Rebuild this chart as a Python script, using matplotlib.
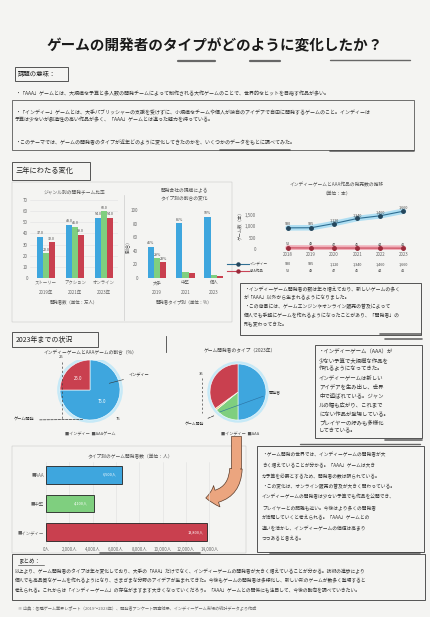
import matplotlib
matplotlib.use('Agg')
import matplotlib.pyplot as plt
from matplotlib.patches import Rectangle, FancyArrowPatch, Circle
import numpy as np

plt.rcParams['font.family'] = ['Noto Sans CJK JP', 'DejaVu Sans']

W, H = 430, 617

# --- data ---
genre_cats = ['ストーリー\n2019年', 'アクション\n2021年', 'オンライン\n2023年']
genre_aaa = [37, 48, 54]
genre_mid = [22, 46, 60]
genre_indie = [32, 39, 54]

type_cats = ['大手\n2019', '中堅\n2021', '個人\n2023']
type_aaa = [46, 81, 90]
type_mid = [29, 9, 4]
type_indie = [23, 7, 3]

line_years = ['2018', '2019', '2020', '2021', '2022', '2023']
indie_games = [930, 935, 1120, 1340, 1460, 1660]
aaa_games = [52, 48, 47, 45, 44, 41]

pie1_labels = ['インディー', 'AAA']
pie1_values = [75, 25]

pie2_labels = ['開発者', 'カジュアル', 'その他', 'インディー']
pie2_values = [50, 14, 1, 35]

budget_labels = ['AAA', '中堅', 'インディー']
budget_values = [6500, 4100, 13800]

BLUE = '#3ea6de'
GREEN = '#7fcf7f'
RED = '#c9404f'
YELLOW = '#f2d27a'
BG = '#f4f4f2'


def rect(x0, y0, x1, y1):
    return [x0 / W, 1 - y1 / H, (x1 - x0) / W, (y1 - y0) / H]


fig = plt.figure(figsize=(4.3, 6.17), dpi=100, facecolor=BG)
bg = fig.add_axes([0, 0, 1, 1])
bg.set_xlim(0, W)
bg.set_ylim(H, 0)
bg.axis('off')


def box(x0, y0, x1, y1, lw=0.6, ec='#3a3a3a'):
    bg.add_patch(Rectangle((x0, y0), x1 - x0, y1 - y0, fill=False, lw=lw, ec=ec))


def stroke(x0, x1, y, lw=1.6):
    bg.plot([x0, x1], [y, y], color='#444', lw=lw, alpha=0.8, solid_capstyle='round')


def para(x, y, lines, size=3.6, step=7.5):
    for i, s in enumerate(lines):
        bg.text(x, y + i * step, s, fontsize=size, color='#333', va='center')


# title
bg.text(215, 45, 'ゲームの開発者のタイプがどのように変化したか？',
        fontsize=10.5, fontweight='bold', ha='center', va='center', color='#1a1a1a')
stroke(178, 215, 61)
stroke(250, 280, 61)
stroke(330, 410, 60, lw=1.0)

# section 1
box(15, 67, 68, 81)
bg.text(18, 74, '課題の意味：', fontsize=4.6, va='center', color='#222')
para(15, 93, ['・「AAA」ゲームとは、大規模な予算と多人数の開発チームによって制作される大作ゲームのことで、世界的なヒットを目指す作品が多い。'])
box(12, 100, 414, 150, lw=0.5)
para(15, 112, ['・「インディー」ゲームとは、大手パブリッシャーの支援を受けずに、小規模なチームや個人が独自のアイデアで自由に開発するゲームのこと。インディーは',
               '予算は少ないが創造性の高い作品が多く、「AAA」ゲームとは違った魅力を持っている。'])
para(15, 143, ['・このテーマでは、ゲームの開発者のタイプが近年どのように変化してきたのかを、いくつかのデータをもとに調べてみた。'])
stroke(220, 290, 150, lw=1.2)
stroke(330, 414, 151, lw=1.2)

# section 2
box(12, 162, 90, 180)
bg.text(16, 171, '三年にわたる変化', fontsize=5.2, va='center', color='#222')
box(12, 182, 232, 322, lw=0.3, ec='#bbb')
bg.plot([124, 124], [195, 320], color='#ccc', lw=0.5)

tick_kw = dict(labelsize=3.2, colors='#666', length=0, pad=1.5)

# chart 1: grouped bars
ax1 = fig.add_axes(rect(30, 200, 118, 278))
x = np.arange(len(genre_cats))
wd = 0.2
for k, (vals, c) in enumerate([(genre_aaa, BLUE), (genre_mid, GREEN), (genre_indie, RED)]):
    b = ax1.bar(x + (k - 1) * wd, vals, wd, color=c)
    ax1.bar_label(b, labels=[f'{v:.1f}' for v in vals], fontsize=2.6, color='#444', padding=1)
ax1.set_ylim(0, 70)
ax1.set_xlim(-0.55, 2.48)
ax1.set_yticks(range(0, 80, 10))
ax1.set_xticks(x)
ax1.set_xticklabels(genre_cats, linespacing=2.2)
ax1.tick_params(**tick_kw)
ax1.grid(axis='y', color='#e2e2e2', lw=0.4)
ax1.set_axisbelow(True)
for s in ax1.spines.values():
    s.set_visible(False)
ax1.set_facecolor('none')
ax1.set_title('ジャンル別の開発チーム比率', fontsize=3.4, color='#555', pad=5)
ax1.set_xlabel('開発者数（単位：万人）', fontsize=3.2, color='#555', labelpad=3)

# chart 2: grouped bars
ax2 = fig.add_axes(rect(140, 210, 228, 278))
for k, (vals, c) in enumerate([(type_aaa, BLUE), (type_mid, GREEN), (type_indie, RED)]):
    b = ax2.bar(x + (k - 1) * 0.22, vals, 0.22, color=c)
    if k == 0:
        ax2.bar_label(b, labels=[f'{v}%' for v in vals], fontsize=2.6, color='#444', padding=1)
    else:
        ax2.bar_label(b, labels=[f'{vals[0]}%', '', ''], fontsize=2.6, color='#444', padding=1)
ax2.set_ylim(0, 100)
ax2.set_xlim(-0.6, 2.5)
ax2.set_yticks(range(0, 120, 20))
ax2.set_xticks(x)
ax2.set_xticklabels(type_cats, linespacing=2.2)
ax2.tick_params(**tick_kw)
for s in ax2.spines.values():
    s.set_visible(False)
ax2.set_facecolor('none')
ax2.set_title('開発会社の規模による\nタイプ別の割合の変化', fontsize=3.4, color='#555', pad=8, linespacing=1.6)
ax2.set_ylabel('（割合）', fontsize=3.2, color='#555', labelpad=2)
ax2.set_xlabel('開発者タイプ別（単位：%）', fontsize=3.2, color='#555', labelpad=3)

# chart 3: lines with data table
ax3 = fig.add_axes(rect(258, 200, 415, 250))
xl = np.arange(len(line_years))
ax3.plot(xl, indie_games, color='#a8dcf2', lw=4, alpha=0.9, solid_capstyle='round')
ax3.plot(xl, indie_games, color='#2f6f93', lw=0.8, marker='o', ms=2.5, mfc='#24465c', mec='#24465c')
ax3.plot(xl, aaa_games, color='#f0a8b4', lw=4, alpha=0.9, solid_capstyle='round')
ax3.plot(xl, aaa_games, color='#c94456', lw=0.8, marker='o', ms=2.5, mfc='#9a2a3a', mec='#9a2a3a')
for i in xl:
    ax3.text(i, indie_games[i] + 110, f'{indie_games[i]:,}', fontsize=2.7, ha='center', color='#444')
    ax3.text(i, aaa_games[i] + 110, f'{aaa_games[i]}', fontsize=2.7, ha='center', color='#444')
    ax3.text(i, -0.28, f'{indie_games[i]:,}', fontsize=2.7, ha='center', va='center', color='#444',
             transform=ax3.get_xaxis_transform())
    ax3.text(i, -0.42, f'{aaa_games[i]}', fontsize=2.7, ha='center', va='center', color='#444',
             transform=ax3.get_xaxis_transform())
for yy, c, mc, lab in [(-0.28, '#2f6f93', '#24465c', 'インディー'), (-0.42, '#c94456', '#9a2a3a', 'AAA作品')]:
    ax3.plot([-0.2, -0.13, -0.06], [yy] * 3, transform=ax3.transAxes, clip_on=False,
             color=c, lw=0.8, marker='o', ms=2.2, markevery=[1], mfc=mc, mec=mc)
    ax3.text(-0.05, yy, lab, transform=ax3.transAxes, fontsize=2.6, va='center', color='#444')
ax3.set_xlim(-1.3, 5.5)
ax3.set_ylim(-40, 2150)
ax3.set_yticks([0, 500, 1000, 1500])
ax3.set_yticklabels(['0', '500', '1,000', '1,500'])
ax3.set_xticks(xl)
ax3.set_xticklabels(line_years)
ax3.tick_params(**tick_kw)
for s in ax3.spines.values():
    s.set_visible(False)
ax3.set_facecolor('none')
ax3.set_title('インディーゲームとAAA作品の発売数の推移\n（単位：本）', fontsize=3.4, color='#555', pad=4, linespacing=1.7)
ax3.set_ylabel('ゲーム数（本）', fontsize=3.2, color='#555', labelpad=2)

box(240, 283, 421, 335, lw=0.6)
para(244, 289, ['・インディーゲーム開発者の数は年々増えており、新しいゲームの多く',
                'が「AAA」以外から生まれるようになりました。',
                '・この背景には、ゲームエンジンやオンライン販売の普及によって',
                '個人でも手軽にゲームを作れるようになったことがあり、「開発者」の',
                '形も変わってきた。'], size=3.5, step=8.8)
stroke(380, 421, 334, lw=1.2)

# section 3
box(12, 332, 98, 347)
bg.text(16, 340, '2023年までの状況', fontsize=5.0, va='center', color='#222')
bg.plot([166, 166], [336, 352], color='#444', lw=0.6)


def pie_axes(cx, cy, r, x0, y0, x1, y1):
    ax = fig.add_axes(rect(x0, y0, x1, y1))
    return ax, ((x0 - cx) / r, (x1 - cx) / r), ((cy - y1) / r, (cy - y0) / r)


# pie 1
axp1, xlim1, ylim1 = pie_axes(90, 390, 30, 15, 360, 165, 430)
axp1.add_patch(Circle((0, 0), 1.07, color='#c6e9f7', zorder=0))
axp1.pie(pie1_values, colors=[BLUE, RED], startangle=90, counterclock=False,
         autopct='%.1f', pctdistance=0.55, textprops=dict(fontsize=3.2, color='white'),
         wedgeprops=dict(edgecolor='white', lw=0.4))
axp1.set_xlim(*xlim1)
axp1.set_ylim(*ylim1)
axp1.annotate(pie1_labels[0], xy=(0.55, 0.2), xytext=(1.3, 0.45), fontsize=3.0, color='#333',
              arrowprops=dict(arrowstyle='-', lw=0.4, color='#333'))
axp1.annotate('ゲーム開発', xy=(-0.15, -0.98), xytext=(-2.55, -1.0), fontsize=3.0, color='#333',
              va='center', arrowprops=dict(arrowstyle='-', lw=0.5, color='#333', ls='--'))
axp1.plot([-0.95, -0.95], [0.95, -0.95], color='#444', lw=0.5, ls=(0, (3, 3)))
axp1.text(-0.95, 1.05, f'{pie1_values[1]}', fontsize=3.0, ha='center', color='#333')
axp1.text(0.95, -1.0, f'{pie1_values[0]}', fontsize=3.0, ha='center', color='#333')
bg.text(90, 353, 'インディーゲームとAAAゲームの割合（%）', fontsize=3.4, ha='center', va='center', color='#444')
bg.text(90, 434, '■インディー  ■AAAゲーム', fontsize=3.0, ha='center', va='center', color='#555')

# pie 2
axp2, xlim2, ylim2 = pie_axes(238, 392, 28, 185, 360, 300, 430)
axp2.add_patch(Circle((0, 0), 1.07, color='#c6e9f7', zorder=0))
axp2.pie(pie2_values, colors=[BLUE, GREEN, YELLOW, RED], startangle=90, counterclock=False,
         wedgeprops=dict(edgecolor='white', lw=0.4))
axp2.set_xlim(*xlim2)
axp2.set_ylim(*ylim2)
axp2.annotate(pie2_labels[0], xy=(-0.75, -0.75), xytext=(1.1, 0.0), fontsize=2.9, color='#333',
              va='center', arrowprops=dict(arrowstyle='-', lw=0.4, color='#2a6fa0'))
axp2.plot([-1.3, -1.3], [0.5, -0.75], color='#444', lw=0.5, ls=(0, (3, 3)))
axp2.text(-1.3, 0.6, f'{pie2_values[3]}', fontsize=3.0, ha='center', color='#333')
axp2.annotate('ゲーム開発', xy=(-0.75, -0.8), xytext=(-1.9, -1.15), fontsize=2.8, color='#333',
              va='center', ha='left', arrowprops=dict(arrowstyle='-', lw=0.5, color='#333', ls='--'))
bg.text(240, 351, 'ゲーム開発者のタイプ（2023年）', fontsize=3.4, ha='center', va='center', color='#444')
bg.text(240, 434, '■インディー  ■AAA', fontsize=3.0, ha='center', va='center', color='#555')

box(315, 345, 422, 438, lw=0.6)
para(319, 351, ['・インディーゲーム（AAA）が',
                '少ない予算で大規模な作品を',
                '作れるようになってきた。',
                'インディーゲームは新しい',
                'アイデアを生み出し、世界',
                '中で遊ばれている。ジャン',
                'ルの幅も広がり、これまで',
                'にない作品が登場している。',
                'プレイヤーの好みも多様化',
                'してきている。'], size=3.9, step=8.9)
stroke(385, 422, 440, lw=1.2)
stroke(385, 422, 339, lw=1.2)

# horizontal bars
box(12, 446, 246, 553, lw=0.3, ec='#bbb')
axb = fig.add_axes(rect(46, 462, 215, 545))
yb = np.arange(len(budget_labels))
bars = axb.barh(yb, budget_values, 0.62, color=[BLUE, GREEN, RED], edgecolor='#222', lw=0.6)
axb.bar_label(bars, labels=[f'{v:,}人' for v in budget_values], label_type='edge', padding=-14,
              fontsize=2.8, color='white')
axb.invert_yaxis()
axb.set_xlim(0, 14500)
axb.set_xticks(range(0, 16000, 2000))
axb.set_xticklabels([f'{v:,}人' for v in range(0, 16000, 2000)])
axb.set_yticks(yb)
axb.set_yticklabels(['■' + s for s in budget_labels])
axb.tick_params(**tick_kw)
axb.grid(axis='x', color='#e0e0e0', lw=0.4)
axb.set_axisbelow(True)
for s in axb.spines.values():
    s.set_visible(False)
axb.set_facecolor('none')
axb.set_title('タイプ別のゲーム開発者数（単位：人）', fontsize=3.4, color='#555', pad=3)

# arrow
bg.add_patch(Rectangle((231, 436), 10, 34, fc='#eba57f', ec='#5a3b2a', lw=0.5))
bg.add_patch(FancyArrowPatch((236, 466), (203, 498),
                             connectionstyle='angle3,angleA=90,angleB=0',
                             arrowstyle='simple,head_length=8,head_width=16,tail_width=9',
                             mutation_scale=1, fc='#eba57f', ec='#5a3b2a', lw=0.5))
bg.add_patch(Rectangle((231.8, 462), 8.4, 8, fc='#eba57f', ec='none'))

box(257, 446, 424, 552, lw=0.6)
para(262, 455, ['・ゲーム開発の世界では、インディーゲームの開発者が大',
                'きく増えていることが分かる。「AAA」ゲームは大き',
                'な予算を必要とするため、開発者の数は限られている。',
                '・この変化は、オンライン販売の普及が大きく関わっている。',
                'インディーゲームの開発者は少ない予算でも作品を公開でき、',
                'プレイヤーとの距離も近い。今後はより多くの開発者',
                'が活躍していくと考えられる。「AAA」ゲームとの',
                '違いを活かし、インディーゲームの価値は高まり',
                'つつあると言える。'], size=3.4, step=10.5)
stroke(300, 420, 444, lw=1.0)

# conclusion
box(12, 554, 425, 600, lw=0.6)
bg.text(18, 561, 'まとめ：', fontsize=4.0, va='center', color='#222')
bg.plot([18, 44], [565, 565], color='#222', lw=0.4)
para(15, 571, ['以上より、ゲーム開発者のタイプは年々変化しており、大手の「AAA」だけでなく、インディーゲームの開発者が大きく増えていることが分かる。技術の進歩により',
               '個人でも高品質なゲームを作れるようになり、さまざまな分野のアイデアが生まれてきた。今後もゲームの開発者は多様化し、新しい形のゲームが数多く登場すると',
               '考えられる。これからは「インディーゲーム」の存在がますます大きくなっていくだろう。「AAA」ゲームとの関係にも注目して、今後の動向を調べていきたい。'],
     size=3.45, step=9.5)
stroke(100, 200, 553, lw=1.2)
stroke(270, 420, 553, lw=1.2)
bg.text(18, 608, '※ 出典：各種ゲーム業界レポート（2019〜2023年）、開発者アンケート調査結果、インディーゲーム市場の統計データより作成', fontsize=3.0,
        va='center', color='#666')

fig.savefig('out.png', dpi=100, facecolor=BG)
